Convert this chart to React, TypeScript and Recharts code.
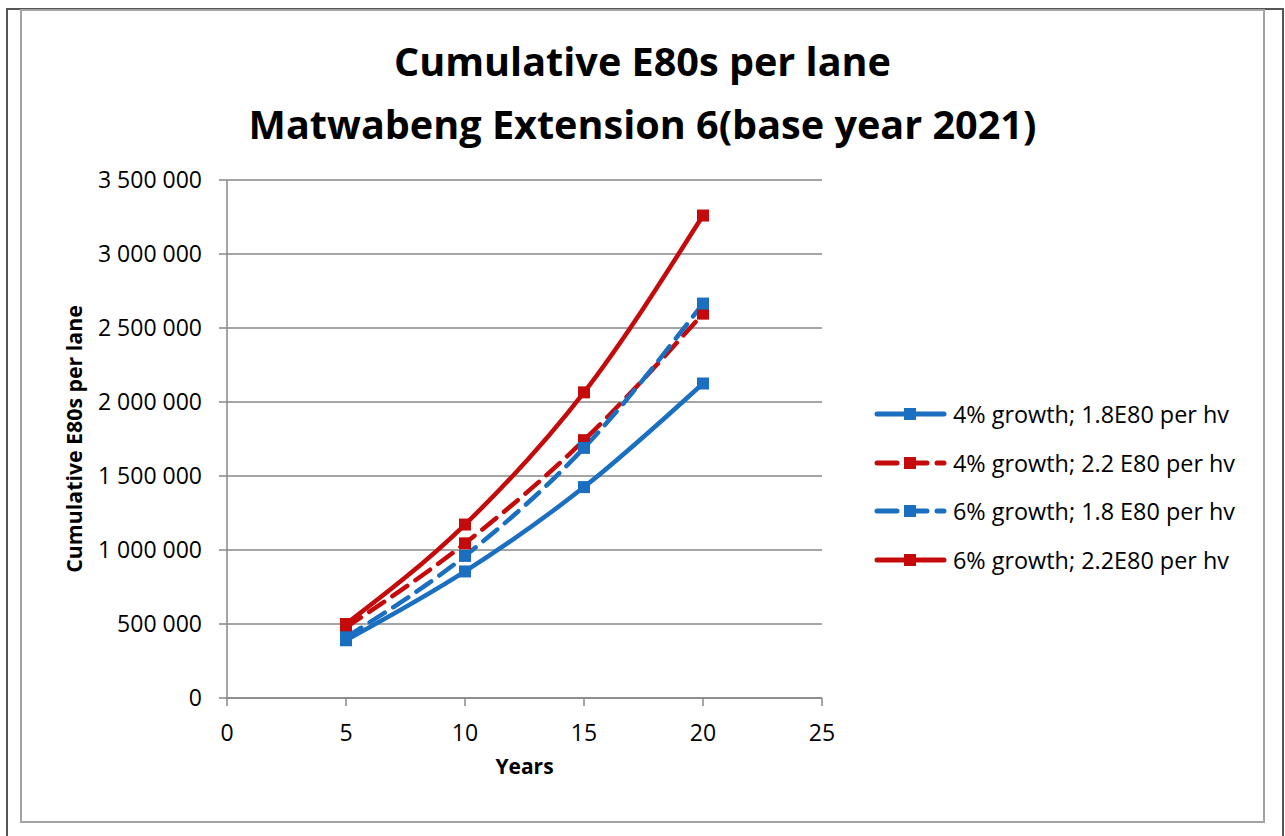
import React from 'react'
import {
  LineChart,
  Line,
  XAxis,
  YAxis,
  CartesianGrid,
  Legend,
  Label,
} from 'recharts'

// years after base year 2021
const years = [5, 10, 15, 20]

// cumulative E80s per lane
const growth4Hv18 = [390000, 855000, 1425000, 2125000]
const growth4Hv22 = [477000, 1045000, 1742000, 2597000]
const growth6Hv18 = [410000, 960000, 1690000, 2665000]
const growth6Hv22 = [500000, 1172000, 2065000, 3260000]

const seriesNames = [
  '4% growth; 1.8E80 per hv',
  '4% growth; 2.2 E80 per hv',
  '6% growth; 1.8 E80 per hv',
  '6% growth; 2.2E80 per hv',
]

const xTicks = [0, 5, 10, 15, 20, 25]
const yTicks = [0, 500000, 1000000, 1500000, 2000000, 2500000, 3000000, 3500000]

const BLUE = '#1a6fc1'
const RED = '#c40a0a'
const FONT = '"Open Sans", sans-serif'

const data = years.map((yr, i) => ({
  year: yr,
  s1: growth4Hv18[i],
  s2: growth4Hv22[i],
  s3: growth6Hv18[i],
  s4: growth6Hv22[i],
}))

const styles = [
  { key: 's1', color: BLUE, dash: undefined },
  { key: 's2', color: RED, dash: '18 10' },
  { key: 's3', color: BLUE, dash: '18 10' },
  { key: 's4', color: RED, dash: undefined },
]

const fmt = (v: number) => v.toLocaleString('en-US').replace(/,/g, ' ')

// square marker like Excel's
const SquareDot = (color: string) => (props: any) => {
  const { cx, cy, index } = props
  if (cx == null || cy == null) return null
  return <rect key={`d-${index}`} x={cx - 6} y={cy - 6} width={12} height={12} fill={color} />
}

const LegendContent = () => (
  <div style={{ fontFamily: FONT, fontSize: 23.4, color: '#000' }}>
    {styles.map((s, i) => (
      <div key={s.key} style={{ display: 'flex', alignItems: 'center', height: 48.5 }}>
        <svg width={76} height={20} style={{ marginRight: 3 }}>
          <line
            x1={3}
            y1={10}
            x2={70}
            y2={10}
            stroke={s.color}
            strokeWidth={5}
            strokeLinecap='round'
            strokeDasharray={s.dash ? '20 10' : undefined}
          />
          <rect x={30} y={4} width={12} height={12} fill={s.color} />
        </svg>
        <span>{seriesNames[i]}</span>
      </div>
    ))}
  </div>
)

export default function App() {
  return (
    <div style={{ position: 'absolute', left: 0, top: 0, width: 1285, height: 836, background: '#fff' }}>
      <div
        style={{
          position: 'absolute',
          left: 6,
          top: 8,
          width: 1274,
          height: 840,
          border: '2px solid #555',
        }}
      />
      <div
        style={{
          position: 'absolute',
          left: 20,
          top: 9,
          width: 1241,
          height: 810,
          border: '2px solid #a3a3a3',
        }}
      />
      <div
        style={{
          position: 'absolute',
          left: 0,
          top: 30,
          width: 1285,
          textAlign: 'center',
          fontFamily: FONT,
          fontWeight: 700,
          fontSize: 39.6,
          lineHeight: '63px',
          color: '#000',
        }}
      >
        <div>Cumulative E80s per lane</div>
        <div>Matwabeng Extension 6(base year 2021)</div>
      </div>
      <div style={{ position: 'absolute', left: 0, top: 0 }}>
        <LineChart
          width={1285}
          height={836}
          data={data}
          margin={{ top: 180, right: 463, bottom: 0, left: 0 }}
          style={{ fontFamily: FONT }}
        >
          <CartesianGrid vertical={false} stroke='#878787' strokeWidth={1.5} />
          <XAxis
            dataKey='year'
            type='number'
            domain={[0, 25]}
            ticks={xTicks}
            height={138}
            stroke='#878787'
            strokeWidth={1.5}
            tickSize={8}
            tickMargin={19}
            tick={{ fill: '#000', fontSize: 23 }}
          >
            <Label
              value='Years'
              position='insideTop'
              offset={61}
              style={{ fontWeight: 700, fontSize: 21, fill: '#000' }}
            />
          </XAxis>
          <YAxis
            type='number'
            domain={[0, 3500000]}
            ticks={yTicks}
            width={227}
            stroke='#878787'
            strokeWidth={1.5}
            tickSize={8}
            tickMargin={17}
            tickFormatter={fmt}
            tick={{ fill: '#000', fontSize: 23 }}
          >
            <Label
              value='Cumulative E80s per lane'
              angle={-90}
              position='insideLeft'
              offset={74}
              style={{ textAnchor: 'middle', fontWeight: 700, fontSize: 21.3, fill: '#000' }}
            />
          </YAxis>
          {styles.map((s, i) => (
            <Line
              key={s.key}
              dataKey={s.key}
              name={seriesNames[i]}
              type='monotone'
              stroke={s.color}
              strokeWidth={4.5}
              strokeDasharray={s.dash}
              strokeLinecap='round'
              dot={SquareDot(s.color)}
              activeDot={false}
              isAnimationActive={false}
            />
          ))}
          <Legend
            layout='vertical'
            align='center'
            verticalAlign='middle'
            content={LegendContent}
            wrapperStyle={{ left: 874, top: 390, width: 400, height: 200 }}
          />
        </LineChart>
      </div>
    </div>
  )
}
